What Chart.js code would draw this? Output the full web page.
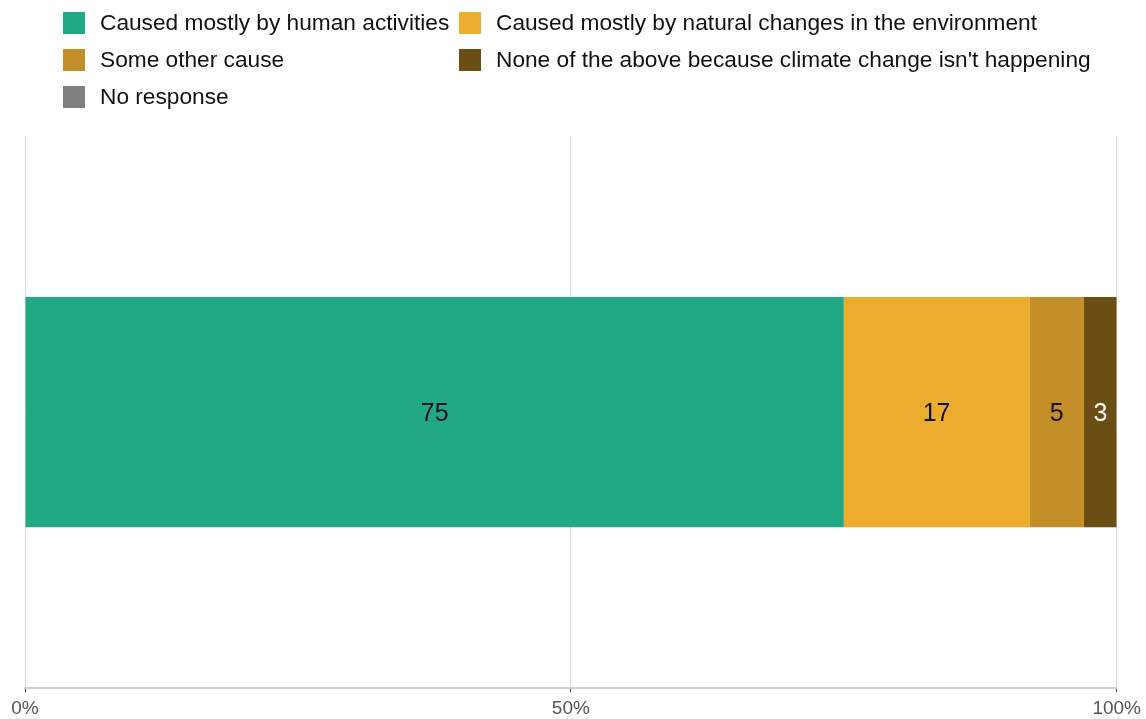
<!DOCTYPE html>
<html>
<head>
<meta charset="utf-8">
<script src="https://cdn.jsdelivr.net/npm/chart.js@4/dist/chart.umd.min.js"></script>
<style>
  html, body { margin: 0; padding: 0; background: #fff; overflow: hidden; }
  #wrap { position: relative; width: 1146px; height: 719px; overflow: hidden; }
  #chart { position: absolute; left: 0; top: 0; }
  .legend-item {
    position: absolute;
    display: flex;
    align-items: center;
    font-family: "Liberation Sans", Arial, sans-serif;
    font-size: 22.7px;
    color: #111;
    white-space: nowrap;
  }
  .legend-item .swatch { width: 22px; height: 22px; margin-right: 15px; }
</style>
</head>
<body>
<div id="wrap">
  <canvas id="chart" width="1146" height="725"></canvas>
  <div id="legend"></div>
</div>
<script>
// survey answers, one stacked bar
const categories = [''];
const seriesNames = [
  'Caused mostly by human activities',
  'Caused mostly by natural changes in the environment',
  'Some other cause',
  "None of the above because climate change isn't happening",
  'No response'
];
const seriesValues = [75, 17, 5, 3, 0];
const seriesColors = ['#21a885', '#ecac2e', '#c48e28', '#6b4e14', '#808080'];
const labelColors = ['#111', '#111', '#111', '#fff', '#fff'];
const tickValues = [0, 50, 100];

// legend: two columns, filled row by row
const legendBox = document.getElementById('legend');
seriesNames.forEach((name, i) => {
  const item = document.createElement('div');
  item.className = 'legend-item';
  item.style.left = (i % 2 === 0 ? 63 : 459) + 'px';
  item.style.top = (9 + Math.floor(i / 2) * 37) + 'px';
  item.innerHTML = '<div class="swatch" style="background:' + seriesColors[i] + '"></div><span></span>';
  item.querySelector('span').textContent = name;
  legendBox.appendChild(item);
});

// value labels in the middle of each segment
const segmentLabels = {
  id: 'segmentLabels',
  afterDatasetsDraw(chart) {
    const ctx = chart.ctx;
    ctx.save();
    ctx.font = '25px "Liberation Sans", Arial, sans-serif';
    ctx.textAlign = 'center';
    ctx.textBaseline = 'middle';
    chart.data.datasets.forEach((ds, i) => {
      const meta = chart.getDatasetMeta(i);
      meta.data.forEach((bar, j) => {
        const v = ds.data[j];
        if (!v) return;
        const p = bar.getProps(['x', 'base', 'y'], true);
        ctx.fillStyle = labelColors[i];
        ctx.fillText(String(v), (p.x + p.base) / 2, p.y + 2);
      });
    });
    ctx.restore();
  }
};

new Chart(document.getElementById('chart'), {
  type: 'bar',
  data: {
    labels: categories,
    datasets: seriesNames.map((name, i) => ({
      label: name,
      data: [seriesValues[i]],
      backgroundColor: seriesColors[i],
      borderWidth: 0,
      categoryPercentage: 1,
      barPercentage: 0.417
    }))
  },
  options: {
    indexAxis: 'y',
    responsive: false,
    animation: false,
    layout: { padding: { top: 136, left: 25, right: 29, bottom: 0 } },
    plugins: { legend: { display: false }, tooltip: { enabled: false } },
    scales: {
      x: {
        stacked: true,
        min: 0,
        max: 100,
        afterBuildTicks(axis) { axis.ticks = tickValues.map(v => ({ value: v })); },
        ticks: {
          callback: v => v + '%',
          color: '#555',
          padding: 5,
          font: { family: '"Liberation Sans", Arial, sans-serif', size: 19 }
        },
        grid: { color: '#d8d8d8', lineWidth: 1, tickLength: 4, tickColor: '#444' },
        border: { color: '#cfcfcf', width: 2 }
      },
      y: {
        stacked: true,
        display: false
      }
    }
  },
  plugins: [segmentLabels]
});
</script>
</body>
</html>
